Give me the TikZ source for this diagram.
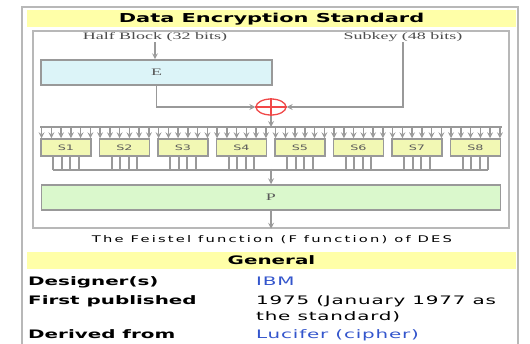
\documentclass[tikz,border=0pt]{standalone}
\usepackage{xcolor}
\usepackage{fontspec}
\usepackage{tikz}
\usetikzlibrary{shapes.geometric, arrows, positioning, calc}

\newfontfamily\boxsans[FakeStretch=1.7]{DejaVu Sans}
\newfontfamily\textsans[FakeStretch=1.7, LetterSpace=7]{DejaVu Sans}
\newfontfamily\capsans[FakeStretch=1.6, LetterSpace=24]{DejaVu Sans}
\newfontfamily\diagserif[FakeStretch=1.8]{Liberation Serif}

\definecolor{baryellow}{HTML}{FFFFA8}
\definecolor{eblue}{HTML}{DCF4F8}
\definecolor{syellow}{HTML}{F2F8B4}
\definecolor{pgreen}{HTML}{DAF8CC}
\definecolor{wiregray}{HTML}{999999}
\definecolor{framegray}{HTML}{B8B8B8}
\definecolor{linkblue}{HTML}{3355CC}
\definecolor{xorred}{HTML}{F04848}

\begin{document}
\begin{tikzpicture}[x=1pt, y=-1pt]
    % Styles
    \tikzstyle{wire} = [draw=wiregray, line width=1.6pt]
    \tikzstyle{arrow} = [wire, ->, >=stealth]
    \tikzstyle{bar} = [rectangle, fill=baryellow, minimum width=489pt, minimum height=17pt, inner sep=0pt, text height=9pt, text depth=0pt]
    \tikzstyle{block} = [rectangle, draw=black!40, line width=1.5pt, minimum height=25pt, inner sep=0pt, text=black!65, font=\diagserif\fontsize{10}{10}\selectfont]
    \tikzstyle{sbox} = [block, fill=syellow, minimum width=50pt, minimum height=17pt, font=\boxsans\fontsize{7.5}{7.5}\selectfont]
    \tikzstyle{sublabel} = [anchor=base, inner sep=0pt, text=black!70, font=\diagserif\fontsize{10}{10}\selectfont]
    \tikzstyle{rowkey} = [anchor=base west, inner sep=0pt, font=\boxsans\bfseries\fontsize{11.7}{12}\selectfont]
    \tikzstyle{rowval} = [anchor=base west, inner sep=0pt, font=\textsans\fontsize{11.7}{12}\selectfont]

    \useasboundingbox (0,0) rectangle (530,344);

    % Infobox
    \draw[framegray, line width=1.5pt] (22,344) |- (518,7) -- (518,344);
    \node[bar, font=\boxsans\bfseries\fontsize{12.3}{13}\selectfont] (title) at (271.5,18.5) {Data Encryption Standard};
    \node[draw=framegray, line width=1.5pt, minimum width=476pt, minimum height=197pt, inner sep=0pt] (frame) at (271,129.5) {};

    % Inputs
    \node[sublabel] (half) at (155,40) {Half Block (32 bits)};
    \node[sublabel] (subkey) at (403,40) {Subkey (48 bits)};

    % Expansion and key mixing
    \node[block, fill=eblue, minimum width=231pt] (E) at (156.5,72.5) {E};
    \node[ellipse, draw=xorred, line width=1.3pt, minimum width=30pt, minimum height=16pt, inner sep=0pt] (xor) at (271,107) {};
    \draw[xorred, line width=1.3pt] (xor.north) -- (xor.south) (xor.west) -- (xor.east);

    \draw[arrow] (half.south) -- (half.south |- E.north);
    \draw[arrow] (E.south) |- (xor.west);
    \draw[arrow] (subkey.south) |- (xor.east);

    % S-boxes
    \coordinate (busL) at (40,127);
    \coordinate (busR) at (502,127);
    \draw[wire] (busL) -- (busR);
    \draw[arrow] (xor.south) -- (xor.south |- busL);
    \foreach \i in {1,...,8} {
        \node[sbox] (S\i) at ({66+58.5*(\i-1)},147.5) {S\i};
        \foreach \o in {-24.4,-14.6,-4.9,4.9,14.6,24.4}
            \draw[arrow] ($(S\i.north)+(\o,-12)$) -- ($(S\i.north)+(\o,0)$);
        \foreach \o in {-12.75,-4.25,4.25,12.75}
            \draw[wire] ($(S\i.south)+(\o,0)$) -- ($(S\i.south)+(\o,13)$);
    }
    \draw[wire] ($(S1.south)+(-12.75,13)$) -- ($(S8.south)+(12.75,13)$);

    % Permutation
    \node[block, fill=pgreen, minimum width=459pt] (P) at (271,197.5) {P};
    \coordinate (collect) at (271,169);
    \draw[arrow] (collect) -- (P.north);
    \draw[arrow] (P.south) -- (frame.south);

    % Caption and table
    \node[anchor=base, inner sep=0pt, font=\capsans\fontsize{9.2}{10}\selectfont] (caption) at (272,242.5) {The Feistel function (F function) of DES};
    \node[bar, font=\boxsans\bfseries\fontsize{11.7}{12}\selectfont] (general) at (271.5,260.5) {General};

    \node[rowkey] (designer) at (28,285.5) {Designer(s)};
    \node[rowval, text=linkblue] (ibm) at (256,285.5) {IBM};
    \node[rowkey] (published) at (28,304.5) {First published};
    \node[rowval] (year) at (256,304.5) {1975 (January 1977 as};
    \node[rowval] (standard) at (256,320.5) {the standard)};
    \node[rowkey] (derived) at (28,338.5) {Derived from};
    \node[rowval, text=linkblue] (lucifer) at (256,338.5) {Lucifer (cipher)};
\end{tikzpicture}
\end{document}
